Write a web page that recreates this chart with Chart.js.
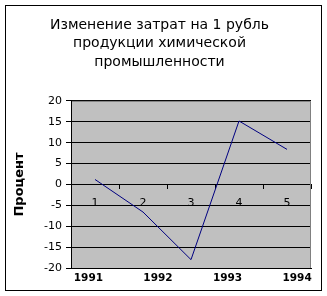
<!DOCTYPE html>
<html>
<head>
<meta charset="utf-8">
<script src="https://cdn.jsdelivr.net/npm/chart.js@4.4.1/dist/chart.umd.min.js"></script>
<style>
  html, body { margin: 0; padding: 0; background: #fff; }
  canvas { display: block; }
</style>
</head>
<body>
<canvas id="costChart" width="327" height="296"></canvas>
<script>
/* ---- data ---- */
const categories = ["1", "2", "3", "4", "5"];
const costChange = [1.2, -6.6, -18, 15.2, 8.4];
const yearTicks = [1991, 1992, 1993, 1994];
const titleLines = ["Изменение затрат на 1 рубль", "продукции химической", "промышленности"];
const axisTitle = "Процент";

const FONT = "'DejaVu Sans', Verdana, sans-serif";

// gray plot area, outer frame, gray top/right border of the plot
const excelFrame = {
  id: "excelFrame",
  beforeDraw(chart) {
    const { ctx, chartArea: a } = chart;
    ctx.save();
    ctx.strokeStyle = "#000";
    ctx.lineWidth = 1;
    ctx.strokeRect(5.5, 5.5, 316, 285);
    ctx.fillStyle = "#c0c0c0";
    ctx.fillRect(a.left, a.top, a.right - a.left, a.bottom - a.top);
    ctx.restore();
  },
  beforeDatasetsDraw(chart) {
    const { ctx, chartArea: a } = chart;
    ctx.save();
    ctx.strokeStyle = "#808080";
    ctx.lineWidth = 1;
    ctx.beginPath();
    ctx.moveTo(a.left + 1, a.top + 0.5);
    ctx.lineTo(a.right - 0.5, a.top + 0.5);
    ctx.lineTo(a.right - 0.5, a.bottom);
    ctx.stroke();
    ctx.restore();
  }
};

new Chart(document.getElementById("costChart"), {
  type: "line",
  data: {
    labels: categories,
    datasets: [{
      data: costChange,
      borderColor: "#000080",
      borderWidth: 1,
      pointRadius: 0,
      tension: 0,
      xAxisID: "x",
      yAxisID: "y"
    }]
  },
  options: {
    responsive: false,
    animation: false,
    layout: { padding: { left: 8, right: 16, top: 16, bottom: 5 } },
    plugins: {
      legend: { display: false },
      tooltip: { enabled: false },
      title: {
        display: true,
        text: titleLines,
        color: "#000",
        font: { family: FONT, size: 14, weight: "normal", lineHeight: 1.32 },
        padding: { top: 0, bottom: 29.5 }
      }
    },
    scales: {
      y: {
        min: -20,
        max: 20,
        ticks: { stepSize: 5, color: "#000", font: { family: FONT, size: 11 }, padding: 4 },
        grid: { color: "#000", tickLength: 5 },
        border: { color: "#000" },
        title: {
          display: true,
          text: axisTitle,
          color: "#000",
          font: { family: FONT, size: 13, weight: "bold" },
          padding: { top: 4, bottom: 0 }
        },
        afterFit(scale) { scale.width = 63; }
      },
      x: {
        type: "category",
        position: { y: 0 },
        offset: true,
        grid: { offset: true, drawOnChartArea: false, color: "#000", tickLength: 4 },
        border: { color: "#000" },
        ticks: { color: "#000", font: { family: FONT, size: 11 }, padding: 8, maxRotation: 0 }
      },
      x2: {
        type: "linear",
        position: "bottom",
        min: 1990.75,
        max: 1994.2,
        afterBuildTicks(scale) { scale.ticks = yearTicks.map(v => ({ value: v })); },
        grid: { drawOnChartArea: false, drawTicks: false },
        border: { color: "#000" },
        ticks: {
          color: "#000",
          font: { family: FONT, size: 10.5, weight: "bold" },
          padding: 4,
          callback: v => String(v)
        },
        afterFit(scale) { scale.height = 23; }
      }
    }
  },
  plugins: [excelFrame]
});
</script>
</body>
</html>
